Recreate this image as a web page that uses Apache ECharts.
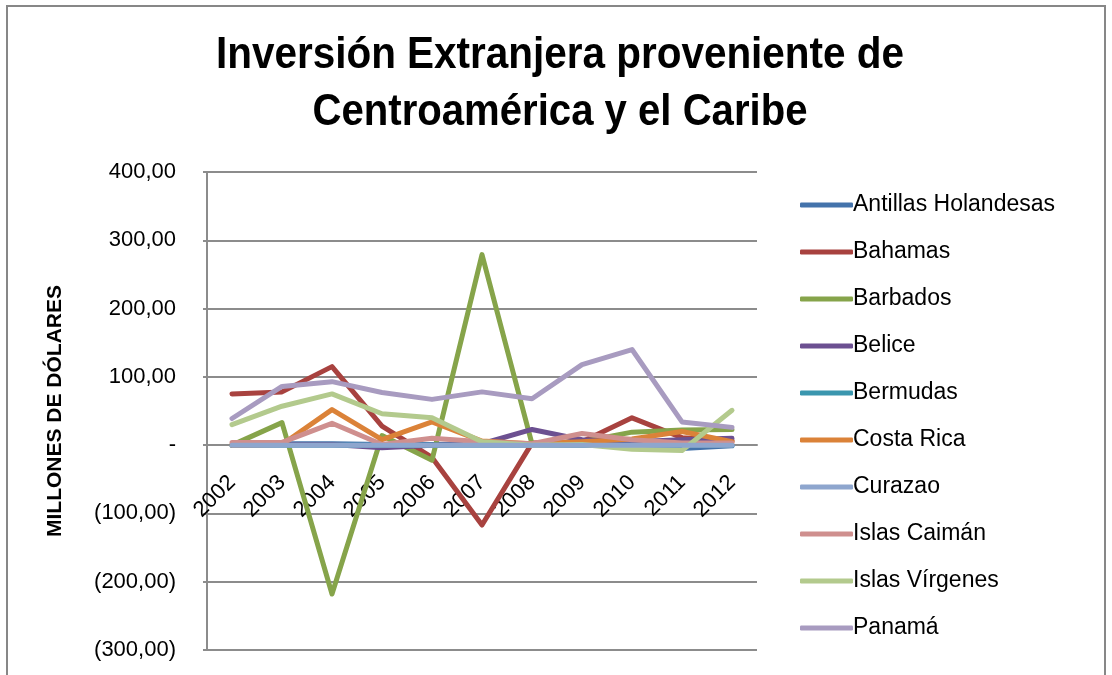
<!DOCTYPE html>
<html>
<head>
<meta charset="utf-8">
<script src="https://cdn.jsdelivr.net/npm/echarts@6/dist/echarts.min.js"></script>
<style>
  html, body { margin: 0; padding: 0; background: #ffffff; }
  #chart { width: 1112px; height: 675px; }
</style>
</head>
<body>
<div id="chart"></div>
<script>
const years = ['2002','2003','2004','2005','2006','2007','2008','2009','2010','2011','2012'];
const antillasHolandesas = [0, 2, 2, 1, 1, 2, 1, 0, 0, -5, -1];
const bahamas = [75, 78, 115, 28, -18, -117, 3, 5, 40, 11, 6];
const barbados = [0, 33, -218, 14, -22, 279, 2, 5, 19, 22, 23];
const belice = [0, 1, 1, -4, 0, 2, 23, 8, 5, 8, 10];
const bermudas = [0, 0, 0, 0, 0, 0, 0, 0, 0, 0, 0];
const costaRica = [0, 1, 52, 8, 34, 6, 2, 5, 9, 20, 5];
const curazao = [0, 0, 0, 0, 0, 0, 0, 0, 0, 0, 0];
const islasCaiman = [4, 4, 32, 1, 10, 5, 2, 17, 8, 3, 3];
const islasVirgenes = [30, 57, 75, 46, 40, 5, 0, 1, -6, -8, 51];
const panama = [39, 86, 93, 77, 67, 78, 68, 118, 140, 34, 26];

const titleLines = ['Inversión Extranjera proveniente de', 'Centroamérica y el Caribe'];
const yAxisName = 'MILLONES DE DÓLARES';
const yMin = -300, yMax = 400, yStep = 100;
const seriesNames = ['Antillas Holandesas','Bahamas','Barbados','Belice','Bermudas','Costa Rica','Curazao','Islas Caimán','Islas Vírgenes','Panamá'];
const seriesData = [antillasHolandesas, bahamas, barbados, belice, bermudas, costaRica, curazao, islasCaiman, islasVirgenes, panama];
const colors = ['#4473AB','#A8423F','#86A44A','#6C5091','#3A96AE','#DB8238','#8EA6CE','#CF8F8E','#B3CA8D','#A89BC0'];

const FONT = '"Liberation Sans", Arial, sans-serif';

function fmt(v) {
  if (v === 0) return '-';
  const s = Math.abs(v).toFixed(2).replace('.', ',');
  return v < 0 ? '(' + s + ')' : s;
}

// measure text widths to emulate a condensed typeface
const mctx = document.createElement('canvas').getContext('2d');
function textWidth(txt, font) { mctx.font = font; return mctx.measureText(txt).width; }
const TITLE_SIZE = 45;
const titleFont = 'bold ' + TITLE_SIZE + 'px "Liberation Sans", Arial, sans-serif';
const titleTargets = [688, 495];
const titleCenters = [55.5, 112.5];
const titleGraphics = titleLines.map((t, i) => ({
  type: 'text',
  x: 560,
  y: titleCenters[i],
  scaleX: titleTargets[i] / textWidth(t, titleFont),
  style: {
    text: t,
    x: 0, y: 0,
    align: 'center',
    verticalAlign: 'middle',
    font: titleFont,
    fill: '#000'
  },
  silent: true
}));
const nameSize = Math.round(20 * 250 / textWidth(yAxisName, 'bold 20px "Liberation Sans", Arial, sans-serif'));

// grid geometry; category axis sits at the value 0 line
const gridTop = 172, gridBottom = 25, chartH = 675;
const gridH = chartH - gridTop - gridBottom;
const zeroOffset = gridH * (0 - yMin) / (yMax - yMin);

const chart = echarts.init(document.getElementById('chart'));
chart.setOption({
  animation: false,
  backgroundColor: '#ffffff',
  color: colors,
  legend: {
    orient: 'vertical',
    left: 795,
    top: 187,
    itemWidth: 53,
    itemHeight: 5,
    itemGap: 21,
    icon: 'roundRect',
    textStyle: { fontFamily: FONT, fontSize: 23, lineHeight: 26, color: '#000', padding: [0,0,0,-5] },
    data: seriesNames
  },
  grid: { left: 207, right: 355, top: gridTop, bottom: gridBottom, containLabel: false, outerBoundsMode: 'none' },
  xAxis: {
    type: 'category',
    data: years,
    boundaryGap: true,
    position: 'bottom',
    offset: -zeroOffset,
    axisLine: { show: true, onZero: false, lineStyle: { color: '#8C8C8C', width: 2 } },
    axisTick: { show: false },
    axisLabel: { rotate: 45, margin: 34, fontFamily: FONT, fontSize: 22, color: '#000' },
    splitLine: { show: false }
  },
  yAxis: {
    type: 'value',
    min: yMin,
    max: yMax,
    interval: yStep,
    name: yAxisName,
    nameLocation: 'middle',
    nameRotate: 90,
    nameGap: 141,
    nameTextStyle: { fontFamily: FONT, fontWeight: 'bold', fontSize: nameSize, color: '#000' },
    axisLine: { show: true, lineStyle: { color: '#8C8C8C', width: 2 } },
    axisTick: { show: true, inside: false, length: 4, lineStyle: { color: '#8C8C8C', width: 2 } },
    axisLabel: { margin: 31, fontFamily: FONT, fontSize: 22, color: '#000', formatter: fmt },
    splitLine: { show: true, lineStyle: { color: '#8C8C8C', width: 2 } }
  },
  graphic: [{
    type: 'rect',
    shape: { x: 7, y: 6, width: 1098, height: 720 },
    style: { fill: 'none', stroke: '#878787', lineWidth: 2 },
    silent: true
  }].concat(titleGraphics),
  series: seriesNames.map((name, i) => ({
    name: name,
    type: 'line',
    data: seriesData[i],
    symbol: 'none',
    z: name === 'Curazao' ? 3 : 2,
    lineStyle: { width: 5, color: colors[i], cap: 'round', join: 'round' },
    itemStyle: { color: colors[i] }
  }))
});
</script>
</body>
</html>
